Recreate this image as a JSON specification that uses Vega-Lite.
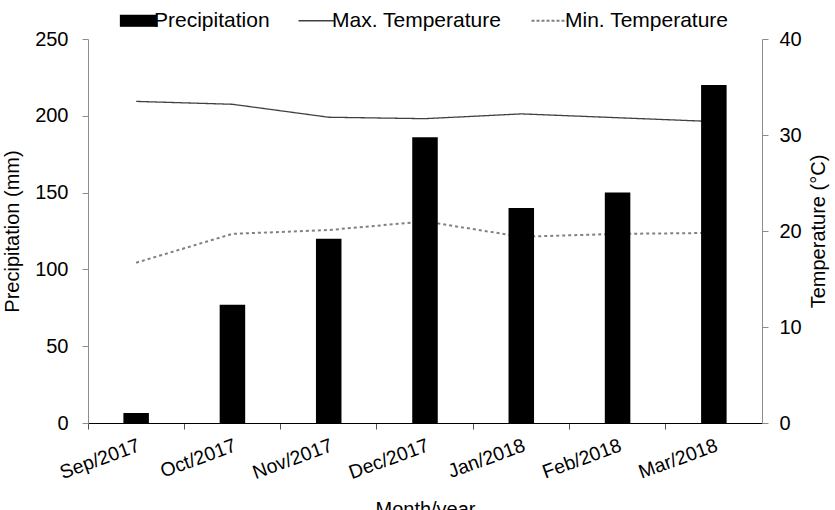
{
  "$schema": "https://vega.github.io/schema/vega-lite/v6.json",
  "width": 674,
  "height": 384,
  "autosize": {"type": "none"},
  "padding": {"left": 88, "top": 39, "right": 73, "bottom": 87},
  "background": "white",
  "config": {
    "font": "Liberation Sans",
    "view": {"stroke": null},
    "axis": {
      "grid": false,
      "labelFont": "Liberation Sans",
      "titleFont": "Liberation Sans",
      "labelFontSize": 20,
      "titleFontSize": 20,
      "titleFontWeight": "normal",
      "labelColor": "#000000",
      "titleColor": "#000000",
      "tickSize": 6
    }
  },
  "data": {
    "values": [
      {"month": "Sep/2017", "series": "Precipitation", "value": 6.5},
      {"month": "Oct/2017", "series": "Precipitation", "value": 77},
      {"month": "Nov/2017", "series": "Precipitation", "value": 120},
      {"month": "Dec/2017", "series": "Precipitation", "value": 186},
      {"month": "Jan/2018", "series": "Precipitation", "value": 140},
      {"month": "Feb/2018", "series": "Precipitation", "value": 150},
      {"month": "Mar/2018", "series": "Precipitation", "value": 220},
      {"month": "Sep/2017", "series": "Max. Temperature", "value": 33.5},
      {"month": "Oct/2017", "series": "Max. Temperature", "value": 33.2},
      {"month": "Nov/2017", "series": "Max. Temperature", "value": 31.85},
      {"month": "Dec/2017", "series": "Max. Temperature", "value": 31.7},
      {"month": "Jan/2018", "series": "Max. Temperature", "value": 32.2},
      {"month": "Feb/2018", "series": "Max. Temperature", "value": 31.8},
      {"month": "Mar/2018", "series": "Max. Temperature", "value": 31.4},
      {"month": "Sep/2017", "series": "Min. Temperature", "value": 16.7},
      {"month": "Oct/2017", "series": "Min. Temperature", "value": 19.7},
      {"month": "Nov/2017", "series": "Min. Temperature", "value": 20.1},
      {"month": "Dec/2017", "series": "Min. Temperature", "value": 21.0},
      {"month": "Jan/2018", "series": "Min. Temperature", "value": 19.4},
      {"month": "Feb/2018", "series": "Min. Temperature", "value": 19.7},
      {"month": "Mar/2018", "series": "Min. Temperature", "value": 19.8}
    ]
  },
  "encoding": {
    "x": {
      "field": "month",
      "type": "ordinal",
      "sort": null,
      "scale": {"paddingInner": 0, "paddingOuter": 0},
      "axis": {
        "title": "Month/year",
        "bandPosition": 0,
        "labelAngle": -20,
        "labelFontSize": 19.5,
        "labelAlign": "right",
        "labelBaseline": "top",
        "labelPadding": 7,
        "titlePadding": 18,
        "domainColor": "#000000",
        "tickColor": "#555555"
      }
    }
  },
  "layer": [
    {
      "transform": [{"filter": "datum.series !== 'Precipitation'"}],
      "mark": {"type": "line"},
      "encoding": {
        "y": {
          "field": "value",
          "type": "quantitative",
          "scale": {"domain": [0, 40], "nice": false},
          "axis": {
            "orient": "right",
            "values": [0, 10, 20, 30, 40],
            "title": "Temperature (°C)",
            "titleAngle": -90,
            "titleBaseline": "top",
            "labelPadding": 11,
            "titlePadding": 7,
            "domainColor": "#8c8c8c",
            "tickColor": "#8c8c8c"
          }
        },
        "color": {
          "field": "series",
          "type": "nominal",
          "scale": {
            "domain": ["Precipitation", "Max. Temperature", "Min. Temperature"],
            "range": ["#000000", "#404040", "#808080"]
          },
          "legend": {
            "orient": "none",
            "legendX": 40,
            "legendY": -29,
            "direction": "horizontal",
            "title": null,
            "padding": 0,
            "labelFont": "Liberation Sans",
            "labelFontSize": 21,
            "labelColor": "#000000",
            "labelOffset": 5,
            "labelLimit": 0,
            "symbolSize": 1296,
            "columnPadding": 25,
            "encode": {
              "symbols": {
                "update": {
                  "shape": {"signal": "datum.value === 'Precipitation' ? 'M-1,-0.3L1,-0.3L1,0.3L-1,0.3Z' : 'stroke'"},
                  "fill": {"signal": "datum.value === 'Precipitation' ? '#000000' : 'transparent'"},
                  "stroke": {"signal": "datum.value === 'Precipitation' ? '#000000' : (datum.value === 'Max. Temperature' ? '#404040' : '#808080')"},
                  "strokeDash": {"signal": "datum.value === 'Min. Temperature' ? [3, 2] : [1, 0]"},
                  "strokeWidth": {"signal": "datum.value === 'Min. Temperature' ? 2 : 1.3"},
                  "opacity": {"value": 1}
                }
              }
            }
          }
        },
        "strokeDash": {
          "field": "series",
          "type": "nominal",
          "scale": {"domain": ["Max. Temperature", "Min. Temperature"], "range": [[1, 0], [3, 3]]},
          "legend": null
        },
        "strokeWidth": {
          "field": "series",
          "type": "nominal",
          "scale": {"domain": ["Max. Temperature", "Min. Temperature"], "range": [1.3, 2]},
          "legend": null
        }
      }
    },
    {
      "transform": [{"filter": "datum.series === 'Precipitation'"}],
      "mark": {"type": "bar", "width": {"band": 0.265}},
      "encoding": {
        "y": {
          "field": "value",
          "type": "quantitative",
          "scale": {"domain": [0, 250], "nice": false},
          "axis": {
            "orient": "left",
            "values": [0, 50, 100, 150, 200, 250],
            "title": "Precipitation (mm)",
            "labelPadding": 14,
            "titlePadding": 12,
            "domainColor": "#8c8c8c",
            "tickColor": "#8c8c8c"
          }
        },
        "color": {"field": "series", "type": "nominal"}
      }
    }
  ],
  "resolve": {"scale": {"y": "independent"}}
}
